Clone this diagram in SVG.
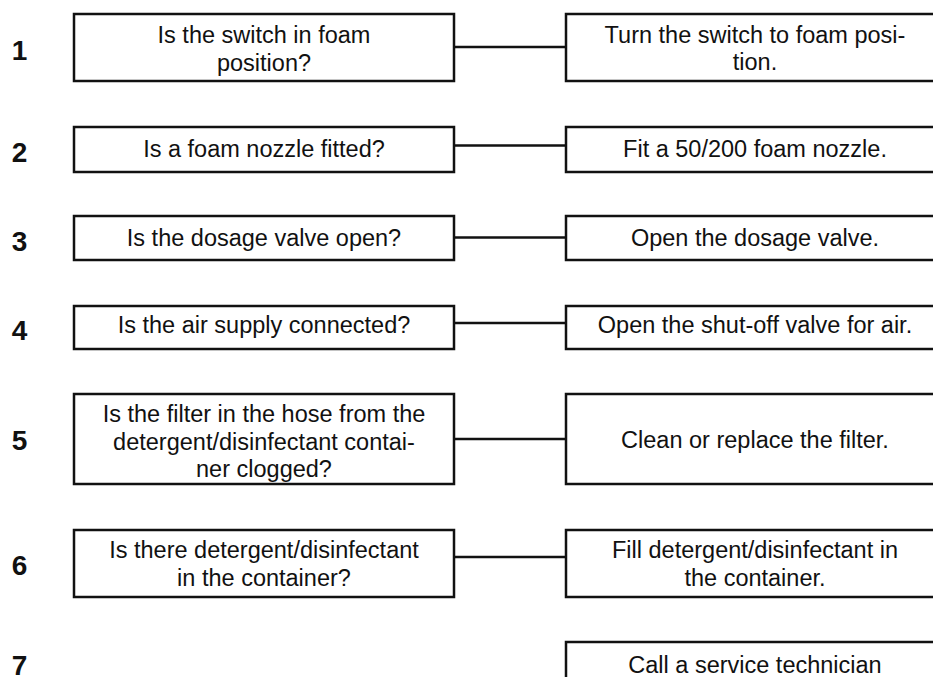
<svg xmlns="http://www.w3.org/2000/svg" width="933" height="677" viewBox="0 0 933 677">
  <style>
    .box { fill: #ffffff; stroke: #111111; stroke-width: 2.5; }
    .link { stroke: #111111; stroke-width: 2.5; fill: none; }
    .txt { font-family: "Liberation Sans", Arial, Helvetica, sans-serif; font-size: 23.5px; fill: #111111; text-anchor: middle; }
    .num { font-family: "Liberation Sans", Arial, Helvetica, sans-serif; font-size: 28px; font-weight: bold; fill: #111111; text-anchor: middle; }
  </style>
  <rect width="933" height="677" fill="#ffffff"/>

  <!-- step numbers -->
  <g id="step-numbers">
    <text class="num" x="19.5" y="59.5">1</text>
    <text class="num" x="19.5" y="161.5">2</text>
    <text class="num" x="19.5" y="251">3</text>
    <text class="num" x="19.5" y="340">4</text>
    <text class="num" x="19.5" y="450">5</text>
    <text class="num" x="19.5" y="575">6</text>
    <text class="num" x="19.5" y="674.5">7</text>
  </g>

  <!-- connectors between question and remedy -->
  <g id="connectors">
    <line class="link" x1="454" y1="47" x2="566" y2="47"/>
    <line class="link" x1="454" y1="145.5" x2="566" y2="145.5"/>
    <line class="link" x1="454" y1="237.5" x2="566" y2="237.5"/>
    <line class="link" x1="454" y1="323" x2="566" y2="323"/>
    <line class="link" x1="452" y1="439" x2="566" y2="439"/>
    <line class="link" x1="452" y1="557" x2="566" y2="557"/>
  </g>

  <!-- questions -->
  <g id="q1">
    <rect class="box" x="74" y="14" width="380" height="67"/>
    <text class="txt" x="264" y="43">Is the switch in foam</text>
    <text class="txt" x="264" y="70.5">position?</text>
  </g>
  <g id="q2">
    <rect class="box" x="74" y="127" width="380" height="45"/>
    <text class="txt" x="264" y="157">Is a foam nozzle fitted?</text>
  </g>
  <g id="q3">
    <rect class="box" x="74" y="216" width="380" height="44"/>
    <text class="txt" x="264" y="246">Is the dosage valve open?</text>
  </g>
  <g id="q4">
    <rect class="box" x="74" y="306" width="380" height="43"/>
    <text class="txt" x="264" y="333">Is the air supply connected?</text>
  </g>
  <g id="q5">
    <rect class="box" x="74" y="394" width="380" height="90"/>
    <text class="txt" x="264" y="421.5">Is the filter in the hose from the</text>
    <text class="txt" x="264" y="449.5">detergent/disinfectant contai-</text>
    <text class="txt" x="264" y="477">ner clogged?</text>
  </g>
  <g id="q6">
    <rect class="box" x="74" y="530" width="380" height="67"/>
    <text class="txt" x="264" y="558">Is there detergent/disinfectant</text>
    <text class="txt" x="264" y="586">in the container?</text>
  </g>

  <!-- remedies -->
  <g id="r1">
    <rect class="box" x="566" y="14" width="390" height="67"/>
    <text class="txt" x="755" y="42.5">Turn the switch to foam posi-</text>
    <text class="txt" x="755" y="70">tion.</text>
  </g>
  <g id="r2">
    <rect class="box" x="566" y="127" width="390" height="45"/>
    <text class="txt" x="755" y="157">Fit a 50/200 foam nozzle.</text>
  </g>
  <g id="r3">
    <rect class="box" x="566" y="216" width="390" height="44"/>
    <text class="txt" x="755" y="246">Open the dosage valve.</text>
  </g>
  <g id="r4">
    <rect class="box" x="566" y="306" width="390" height="43"/>
    <text class="txt" x="755" y="333">Open the shut-off valve for air.</text>
  </g>
  <g id="r5">
    <rect class="box" x="566" y="394" width="390" height="90"/>
    <text class="txt" x="755" y="447.5">Clean or replace the filter.</text>
  </g>
  <g id="r6">
    <rect class="box" x="566" y="530" width="390" height="67"/>
    <text class="txt" x="755" y="558">Fill detergent/disinfectant in</text>
    <text class="txt" x="755" y="586">the container.</text>
  </g>
  <g id="r7">
    <rect class="box" x="566" y="642" width="390" height="60"/>
    <text class="txt" x="755" y="673">Call a service technician</text>
  </g>
</svg>
